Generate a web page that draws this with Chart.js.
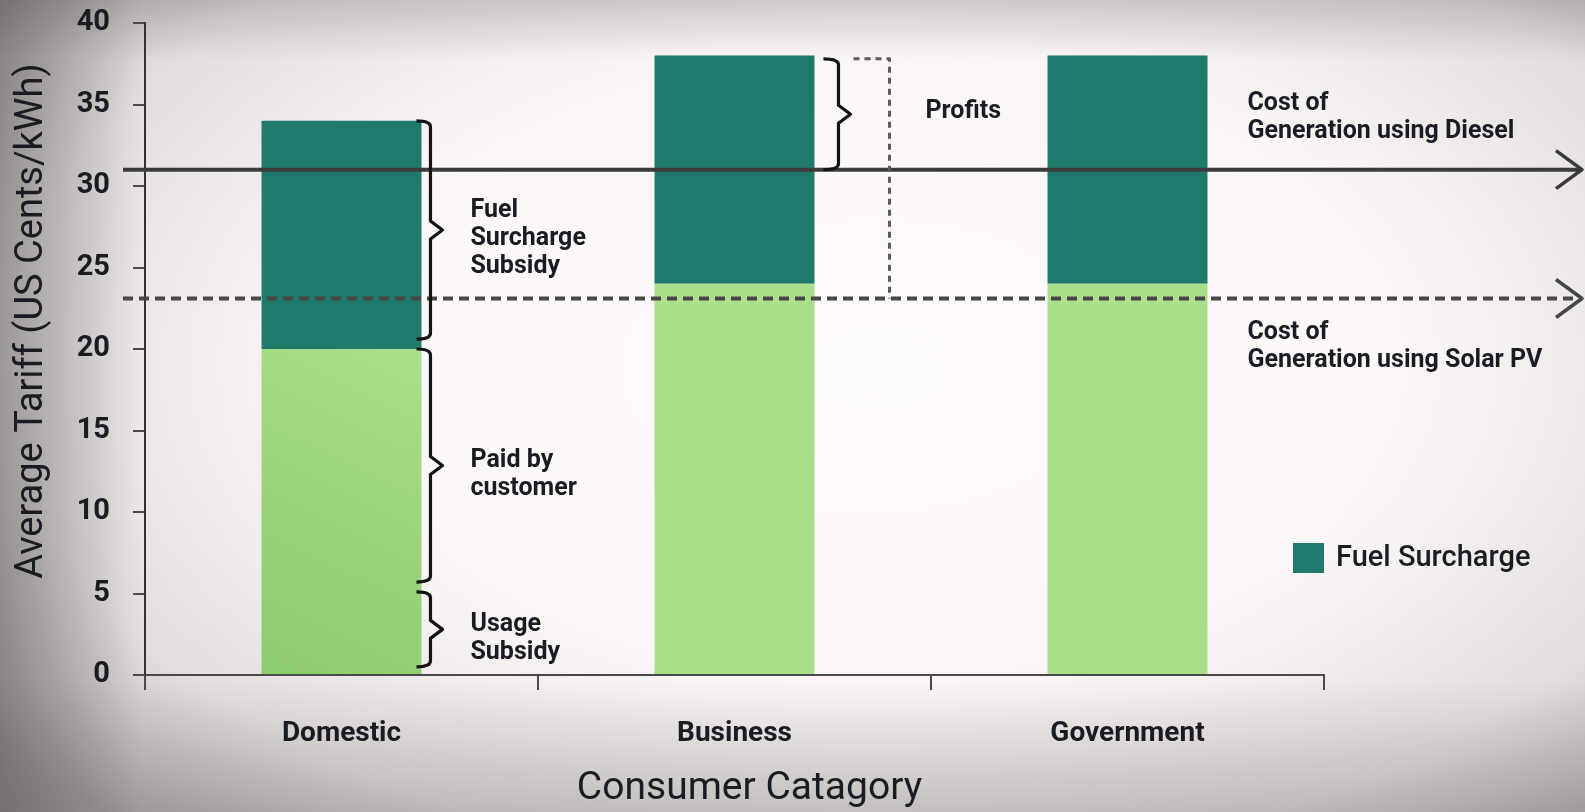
<!DOCTYPE html>
<html>
<head>
<meta charset="utf-8">
<title>Average Tariff by Consumer Category</title>
<script src="https://cdn.jsdelivr.net/npm/chart.js@4/dist/chart.umd.min.js"></script>
<style>
  html, body { margin: 0; padding: 0; }
  body {
    width: 1585px;
    height: 812px;
    overflow: hidden;
    background:
      linear-gradient(to right, rgba(70, 66, 65, 0.45) 0px, rgba(70, 66, 65, 0) 140px),
      linear-gradient(to bottom, rgba(70, 66, 65, 0.22) 0px, rgba(70, 66, 65, 0) 60px),
      linear-gradient(to bottom, rgba(70, 66, 65, 0) 680px, rgba(70, 66, 65, 0.24) 812px),
      radial-gradient(ellipse 68% 78% at 55% 45%, #fefcfb 0%, #faf7f6 50%, #e3dfde 80%, #b4b0af 100%);
  }
  #wrap { position: relative; width: 1585px; height: 812px; }
</style>
</head>
<body>
<div id="wrap"><canvas id="tariffChart"></canvas></div>
<script>
// categories and stacked tariff components (US cents/kWh)
const categories = ['Domestic', 'Business', 'Government'];
const baseTariff = [20, 24, 24];
const fuelSurcharge = [14, 14, 14];
const tariffTicks = [0, 5, 10, 15, 20, 25, 30, 35, 40];

// generation cost reference lines
const generationCosts = [31, 23.1];
const generationLabels = [
    ['Cost of', 'Generation using Diesel'],
    ['Cost of', 'Generation using Solar PV'],
];

// brace ranges next to the domestic bar, with their labels
const domesticBraces = [[20.6, 34], [5.7, 20], [0.5, 5.1]];
const domesticBraceLabels = [['Fuel', 'Surcharge', 'Subsidy'], ['Paid by', 'customer'], ['Usage', 'Subsidy']];
const profitRange = [31, 37.8];
const profitLabel = 'Profits';

const xTitle = 'Consumer Catagory';
const yTitle = 'Average Tariff (US Cents/kWh)';

const textColor = '#1b1b24';
const fontFamily = 'Roboto, "Noto Sans", sans-serif';
const darkGreen = '#1f7a6c';
const lightGreen = '#aadf8a';
const barPercentage = 0.407;

// the domestic base segment is shaded a little darker towards its lower left
function baseColor(context) {
    const {chartArea, scales} = context.chart;
    if (context.dataIndex !== 0 || !chartArea || !scales.x) return lightGreen;
    const cx = scales.x.getPixelForValue(0);
    const half = chartArea.width / categories.length * barPercentage / 2;
    const g = context.chart.ctx.createLinearGradient(
        cx - half, scales.y.getPixelForValue(0), cx + half, scales.y.getPixelForValue(baseTariff[0]));
    g.addColorStop(0, '#8ccb6d');
    g.addColorStop(1, '#a9df89');
    return g;
}

function drawBrace(ctx, x, top, bottom, hook) {
    const tip = 12, r = 6, mid = (top + bottom) / 2;
    ctx.beginPath();
    ctx.moveTo(x - hook, top);
    ctx.quadraticCurveTo(x, top, x, top + r);
    ctx.lineTo(x, mid - 9);
    ctx.lineTo(x + tip, mid);
    ctx.lineTo(x, mid + 9);
    ctx.lineTo(x, bottom - r);
    ctx.quadraticCurveTo(x, bottom, x - hook, bottom);
    ctx.stroke();
}

function drawLines(ctx, lines, x, yCenter, lineHeight) {
    const start = yCenter - (lines.length - 1) * lineHeight / 2;
    lines.forEach((line, i) => ctx.fillText(line, x, start + i * lineHeight));
}

const annotations = {
    id: 'tariffAnnotations',
    afterDatasetsDraw(chart) {
        const {ctx, chartArea, scales: {y}} = chart;
        const bars = chart.getDatasetMeta(1).data;
        const barRight = i => bars[i].x + bars[i].width / 2;

        ctx.save();
        ctx.lineCap = 'butt';
        ctx.lineJoin = 'round';

        // diesel (solid) and solar (dashed) cost lines with open arrow heads
        generationCosts.forEach((cost, i) => {
            const yy = y.getPixelForValue(cost);
            const x0 = chartArea.left - 22, x1 = chart.width - 3;
            ctx.strokeStyle = i === 0 ? '#3b3b3b' : '#474747';
            ctx.lineWidth = 4;
            ctx.setLineDash(i === 0 ? [] : [10, 6]);
            ctx.beginPath();
            ctx.moveTo(x0, yy);
            ctx.lineTo(x1 - 2, yy);
            ctx.stroke();
            ctx.setLineDash([]);
            ctx.lineWidth = 3.5;
            ctx.beginPath();
            ctx.moveTo(x1 - 26, yy - 19);
            ctx.lineTo(x1, yy);
            ctx.lineTo(x1 - 26, yy + 19);
            ctx.stroke();
        });

        // braces beside the domestic bar
        ctx.strokeStyle = '#141414';
        ctx.lineWidth = 3.2;
        const bx = barRight(0) + 9;
        domesticBraces.forEach(([lo, hi]) => {
            drawBrace(ctx, bx, y.getPixelForValue(hi), y.getPixelForValue(lo), 14);
        });

        // profits brace and dashed bracket down to the solar line
        const px = barRight(1) + 24;
        const pTop = y.getPixelForValue(profitRange[1]);
        const pBottom = y.getPixelForValue(profitRange[0]);
        drawBrace(ctx, px, pTop, pBottom, 15);
        ctx.strokeStyle = '#5a5a5a';
        ctx.lineWidth = 3;
        ctx.setLineDash([6, 5]);
        ctx.beginPath();
        ctx.moveTo(px + 15, pTop);
        ctx.lineTo(px + 51, pTop);
        ctx.lineTo(px + 51, y.getPixelForValue(generationCosts[1]));
        ctx.stroke();
        ctx.setLineDash([]);

        // annotation text
        ctx.fillStyle = textColor;
        ctx.font = `bold 25px ${fontFamily}`;
        ctx.textAlign = 'left';
        ctx.textBaseline = 'middle';
        domesticBraces.forEach(([lo, hi], i) => {
            const mid = (y.getPixelForValue(lo) + y.getPixelForValue(hi)) / 2;
            drawLines(ctx, domesticBraceLabels[i], barRight(0) + 49, mid + 9, 28);
        });
        ctx.fillText(profitLabel, barRight(1) + 111, (pTop + pBottom) / 2 - 3);

        const lx = barRight(2) + 40;
        drawLines(ctx, generationLabels[0], lx, y.getPixelForValue(generationCosts[0]) - 52, 28);
        drawLines(ctx, generationLabels[1], lx, y.getPixelForValue(generationCosts[1]) + 48, 28);

        // legend entry for the fuel surcharge series
        const ds = chart.data.datasets[1];
        const ly = chartArea.bottom - 117;
        ctx.fillStyle = ds.backgroundColor;
        ctx.fillRect(chartArea.right - 31, ly - 15, 31, 30);
        ctx.fillStyle = textColor;
        ctx.font = `500 29px ${fontFamily}`;
        ctx.fillText(ds.label, chartArea.right + 12, ly + 1);

        // axis titles
        ctx.textAlign = 'center';
        ctx.font = `39px ${fontFamily}`;
        ctx.fillText(xTitle, (chartArea.left + chartArea.right) / 2 + 15, 789);
        ctx.translate(32, (chartArea.top + chartArea.bottom) / 2 - 28);
        ctx.rotate(-Math.PI / 2);
        ctx.font = `38px ${fontFamily}`;
        ctx.fillText(yTitle, 0, 0);

        ctx.restore();
    }
};

new Chart(document.getElementById('tariffChart'), {
    type: 'bar',
    data: {
        labels: categories,
        datasets: [
            {label: 'Base Tariff', data: baseTariff, backgroundColor: baseColor},
            {label: 'Fuel Surcharge', data: fuelSurcharge, backgroundColor: darkGreen},
        ],
    },
    options: {
        responsive: true,
        maintainAspectRatio: false,
        animation: false,
        layout: {padding: {top: 23, right: 261, bottom: 0, left: 0}},
        datasets: {bar: {barPercentage: barPercentage, categoryPercentage: 1}},
        plugins: {legend: {display: false}, tooltip: {enabled: false}},
        scales: {
            x: {
                stacked: true,
                afterFit: s => { s.height = 137; },
                border: {color: '#4a4a4a', width: 2},
                grid: {offset: true, drawOnChartArea: false, tickLength: 15, color: '#4a4a4a', lineWidth: 2},
                ticks: {padding: 27, color: textColor, font: {family: fontFamily, size: 28, weight: 'bold'}},
            },
            y: {
                stacked: true,
                min: 0,
                max: 40,
                afterBuildTicks: s => { s.ticks = tariffTicks.map(v => ({value: v})); },
                afterFit: s => { s.width = 145; s.paddingTop = 0; s.paddingBottom = 0; },
                border: {color: '#333', width: 2},
                grid: {drawOnChartArea: false, tickLength: 12, color: '#4a4a4a', lineWidth: 2},
                ticks: {padding: 23, color: textColor, font: {family: fontFamily, size: 29, weight: 'bold'}},
            },
        },
    },
    plugins: [annotations],
});
</script>
</body>
</html>
